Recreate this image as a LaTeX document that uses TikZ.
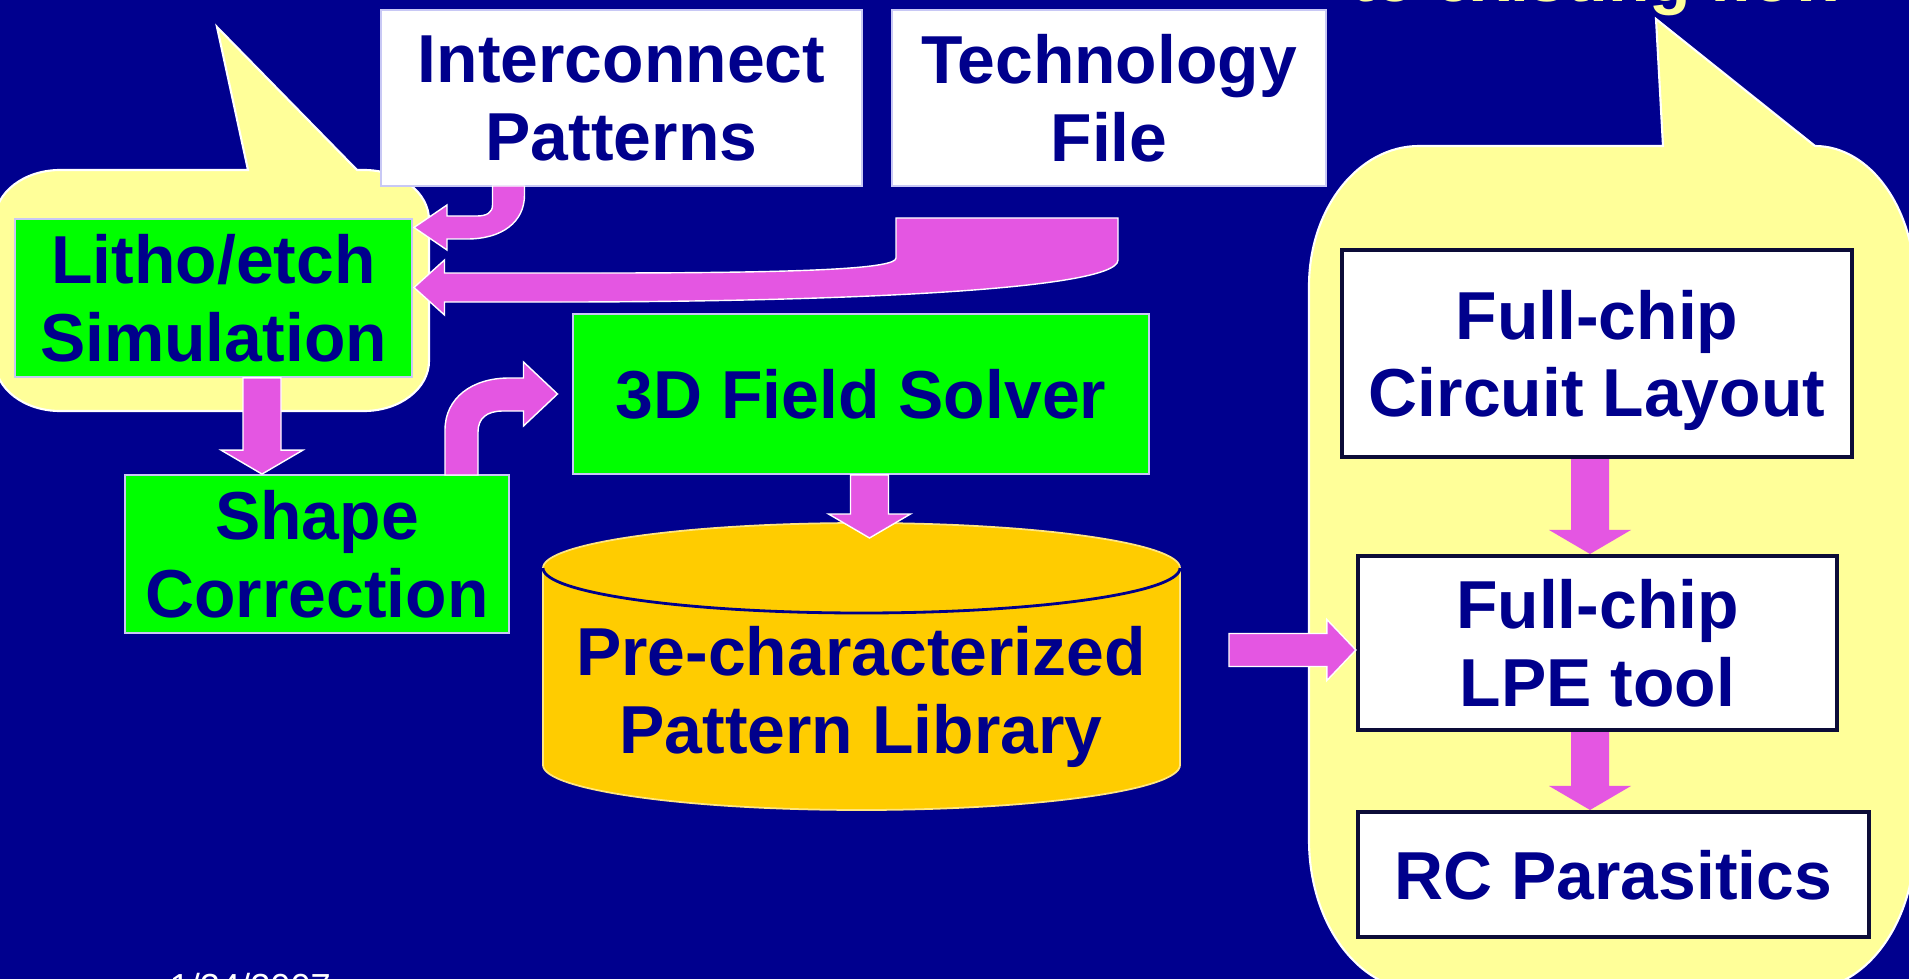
\documentclass[tikz,border=0pt]{standalone}
\usepackage{fontspec}
\setmainfont{Liberation Sans}
\usetikzlibrary{calc}

\definecolor{slidebg}{RGB}{0,0,142}
\definecolor{labelblue}{RGB}{0,0,140}
\definecolor{callout}{RGB}{255,255,153}
\definecolor{simgreen}{RGB}{0,255,0}
\definecolor{flowpink}{RGB}{228,86,226}
\definecolor{libgold}{RGB}{255,204,0}
\definecolor{boxedge}{RGB}{12,12,56}
\definecolor{thinedge}{RGB}{200,200,245}

\newcommand\boxfont{\fontsize{19.3}{22}\selectfont\bfseries}

% block arrows: #2 = tail, #3 = tip
\newcommand\downflow[3][]{%
  \fill[flow,#1] ($(#2)+(-19,0)$) -- ($(#3)+(-19,-24)$) -- ($(#3)+(-41,-24)$) -- (#3)
    -- ($(#3)+(41,-24)$) -- ($(#3)+(19,-24)$) -- ($(#2)+(19,0)$) -- cycle;}
\newcommand\rightflow[3][]{%
  \fill[flow,#1] ($(#2)+(0,-16.5)$) -- ($(#3)+(-29,-16.5)$) -- ($(#3)+(-29,-30.5)$) -- (#3)
    -- ($(#3)+(-29,30.5)$) -- ($(#3)+(-29,16.5)$) -- ($(#2)+(0,16.5)$) -- cycle;}

\begin{document}
\begin{tikzpicture}[x=0.01cm, y=-0.01cm,
    greenbox/.style={draw=thinedge, line width=0.5pt, fill=simgreen, text=labelblue,
      font=\boxfont, align=center, inner sep=0pt, text depth=0pt},
    whitebox/.style={greenbox, fill=white},
    layoutbox/.style={whitebox, draw=boxedge, line width=0.04cm},
    flow/.style={fill=flowpink, draw=white, line width=0.4pt},
    bubble/.style={fill=callout, draw=white, line width=0.6pt}]

  % slide background
  \fill[slidebg] (0,0) rectangle (1909,979);
  \useasboundingbox (0,0) rectangle (1909,979);

  % callouts
  \path[bubble] (60,170) -- (248,170) -- (217,27) -- (357,170) -- (364,170)
    arc[start angle=-90, end angle=0, x radius=65, y radius=50] -- (429,361)
    arc[start angle=0, end angle=90, x radius=65, y radius=50] -- (60,411)
    arc[start angle=90, end angle=180, x radius=65, y radius=50] -- (-5,220)
    arc[start angle=180, end angle=270, x radius=65, y radius=50] -- cycle;
  \path[bubble] (1419,146) -- (1663,146) -- (1656,19) -- (1815,146)
    arc[start angle=-90, end angle=0, x radius=100, y radius=140] -- (1915,840)
    arc[start angle=0, end angle=90, x radius=110, y radius=150] -- (1419,990)
    arc[start angle=90, end angle=180, x radius=110, y radius=150] -- (1309,286)
    arc[start angle=180, end angle=270, x radius=110, y radius=140] -- cycle;

  \node[text=callout, font=\boxfont, anchor=base west, inner sep=0pt] (addon) at (1351,2) {to existing flow};

  % inputs
  \node[whitebox, minimum width=4.81cm, minimum height=1.76cm] (inter) at (621.5,98) {Interconnect\\Patterns};
  \node[whitebox, minimum width=4.34cm, minimum height=1.76cm] (tech) at (1109,98) {Technology\\File};

  % simulation steps
  \node[greenbox, minimum width=3.97cm, minimum height=1.58cm] (litho) at (213.5,298) {Litho/etch\\Simulation};
  \node[greenbox, minimum width=3.84cm, minimum height=1.58cm] (shape) at (317,554) {Shape\\Correction};
  \node[greenbox, minimum width=5.76cm, minimum height=1.60cm] (solver) at (861,394) {3D Field Solver};

  % pattern library
  \path[fill=libgold, draw=libgold!50!white, line width=0.5pt] (543,568) -- (543,765)
    arc[start angle=180, end angle=0, x radius=318.5, y radius=45] -- (1180,568)
    arc[start angle=0, end angle=-180, x radius=318.5, y radius=45] -- cycle;
  \draw[labelblue, line width=0.8pt] (543,568) arc[start angle=180, end angle=0, x radius=318.5, y radius=45];
  \node[text=labelblue, font=\boxfont, align=center, inner sep=0pt, text depth=0pt] (lib) at (861,690) {Pre-characterized\\Pattern Library};

  % full-chip flow
  \node[layoutbox, minimum width=5.10cm, minimum height=2.07cm] (layout) at (1597,353.5) {Full-chip\\Circuit Layout};
  \node[layoutbox, minimum width=4.79cm, minimum height=1.74cm] (lpe) at (1597.5,643) {Full-chip\\LPE tool};
  \node[layoutbox, minimum width=5.11cm, minimum height=1.25cm] (rc) at (1613.5,874.5) {RC Parasitics};

  \coordinate (xa) at (262,0);
  \coordinate (xb) at (869.5,0);
  \coordinate (xc) at (1590,0);
  \coordinate (libout) at (1229,650);
  \coordinate (libtop) at (869.5,538);

  % arrows
  \fill[flow] (492.5,186) -- (492.5,205) .. controls (492.5,213) and (486,216) .. (477,216)
    -- (447,216) -- (447,205) -- (414,227.5) -- (447,250) -- (447,239) -- (467,239)
    .. controls (502,239) and (524.5,222) .. (524.5,195) -- (524.5,186) -- cycle;
  \fill[flow] (896,218) -- (1118,218) -- (1118,260) .. controls (1118,292) and (800,302) .. (560,302)
    -- (444.5,302) -- (444.5,315) -- (414,287.5) -- (444.5,260) -- (444.5,273) -- (600,273)
    .. controls (820,273) and (896,268) .. (896,258) -- cycle;
  \fill[flow] (445,475) -- (445,430) .. controls (445,398) and (472,378) .. (509,378)
    -- (523.5,378) -- (523.5,362) -- (557.5,394) -- (523.5,426) -- (523.5,411) -- (503,411)
    .. controls (487,411) and (478,418) .. (478,432) -- (478,475) -- cycle;
  \downflow{xa |- litho.south}{xa |- shape.north}
  \downflow{xb |- solver.south}{libtop}
  \rightflow{libout}{lpe.west |- libout}
  \downflow[draw=none]{xc |- layout.south}{xc |- lpe.north}
  \downflow[draw=none]{xc |- lpe.south}{xc |- rc.north}

  \node[text=white, font=\fontsize{10.3}{12}\selectfont, anchor=base west, inner sep=0pt] (date) at (169,999) {1/24/2007};
\end{tikzpicture}
\end{document}
